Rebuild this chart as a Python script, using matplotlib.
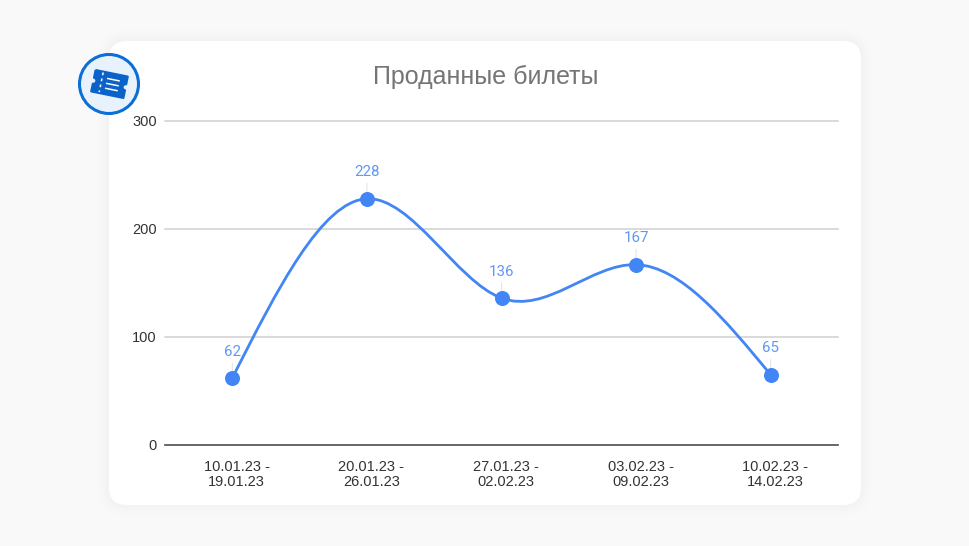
import matplotlib
matplotlib.use('Agg')
import matplotlib.pyplot as plt
from matplotlib.patches import FancyBboxPatch, Circle, PathPatch
from matplotlib.path import Path
from matplotlib.transforms import Affine2D, ScaledTranslation
import numpy as np

plt.rcParams['font.family'] = ['Liberation Sans', 'DejaVu Sans']

title = 'Проданные билеты'
periods = ['10.01.23 -\n19.01.23', '20.01.23 -\n26.01.23', '27.01.23 -\n02.02.23',
           '03.02.23 -\n09.02.23', '10.02.23 -\n14.02.23']
sold = [62, 228, 136, 167, 65]
y_ticks = [0, 100, 200, 300]

W, H = 970, 546
blue = '#4285f4'


def px_axes(fig, zorder):
    # full figure axes in pixel coordinates, y pointing down
    a = fig.add_axes([0, 0, 1, 1], zorder=zorder)
    a.set_xlim(0, W)
    a.set_ylim(H, 0)
    a.axis('off')
    a.patch.set_alpha(0)
    return a


def smooth_path(ys):
    # natural cubic spline through the values, written as bezier segments
    ys = np.asarray(ys, dtype=float)
    n = len(ys)
    A = np.eye(n)
    b = np.zeros(n)
    for i in range(1, n - 1):
        A[i, i - 1:i + 2] = [1, 4, 1]
        b[i] = 6 * (ys[i - 1] - 2 * ys[i] + ys[i + 1])
    m = np.linalg.solve(A, b)
    verts = [(0, ys[0])]
    codes = [Path.MOVETO]
    for i in range(n - 1):
        dy = ys[i + 1] - ys[i]
        d0 = dy - (2 * m[i] + m[i + 1]) / 6
        d1 = dy + (m[i] + 2 * m[i + 1]) / 6
        verts += [(i + 1 / 3, ys[i] + d0 / 3), (i + 2 / 3, ys[i + 1] - d1 / 3), (i + 1, ys[i + 1])]
        codes += [Path.CURVE4] * 3
    return Path(verts, codes)


fig = plt.figure(figsize=(W / 100, H / 100), dpi=100, facecolor='#f9f9f9')

# card with a soft shadow
bg = px_axes(fig, 0)
for grow, alpha in [(12, 0.004), (9, 0.005), (6, 0.006), (3, 0.008)]:
    bg.add_patch(FancyBboxPatch((127 - grow, 59 - grow), 716 + 2 * grow, 428 + 2 * grow,
                                boxstyle='round,pad=18,rounding_size=%d' % (18 + grow),
                                fc='black', ec='none', alpha=alpha))
bg.add_patch(FancyBboxPatch((127, 59), 716, 428, boxstyle='round,pad=18,rounding_size=18',
                            fc='white', ec='none'))
bg.text(485.5, 76.5, title, fontsize=18, color='#757575', ha='center', va='center')

# chart
ax = fig.add_axes([165 / W, 1 - 445 / H, (838 - 165) / W, (445 - 121) / H], zorder=1)
ax.patch.set_alpha(0)
xs = np.arange(len(sold))
ax.set_xlim(-0.5, len(sold) - 0.5)
ax.set_ylim(0, 300)
for s in ['top', 'right', 'left']:
    ax.spines[s].set_visible(False)
ax.spines['bottom'].set_color('#555555')
ax.spines['bottom'].set_linewidth(1.2)
ax.set_yticks(y_ticks)
ax.set_xticks(xs, periods)
ax.grid(axis='y', color='#d0d0d0', lw=1.1, clip_on=False)
ax.set_axisbelow(True)
ax.tick_params(axis='y', length=0, pad=6, labelsize=10.5, labelcolor='#333333')
ax.tick_params(axis='x', length=0, pad=11, labelsize=10.5, labelcolor='#333333')
shift = ScaledTranslation(4.5 / 100, 0, fig.dpi_scale_trans)
for lab in ax.get_xticklabels():
    lab.set_linespacing(1.05)
    lab.set_transform(lab.get_transform() + shift)

ax.add_patch(PathPatch(smooth_path(sold), fc='none', ec=blue, lw=2.0, zorder=3))
ax.plot(xs, sold, 'o', color=blue, ms=10.8, mew=0, zorder=4)
for x, v in zip(xs, sold):
    ax.annotate(str(v), (x, v), xytext=(0, 19), textcoords='offset points',
                ha='center', va='center', fontsize=10.8, color='#5f97f6', family='Roboto',
                arrowprops=dict(arrowstyle='-', color='#e4e4e4', lw=0.8, shrinkA=1, shrinkB=0),
                zorder=2)

# ticket icon
top = px_axes(fig, 2)
top.add_patch(Circle((109, 84), 29.5, fc='#e8f2fd', ec='#0b6fd6', lw=2.2))
rot = Affine2D().rotate_deg(11.5).translate(109.5, 84)
tw, th, notch = 16.5, 11, 3
t = np.linspace(-np.pi / 2, np.pi / 2, 12)
right = [(tw - notch * np.cos(a), notch * np.sin(a)) for a in t]
left = [(-tw + notch * np.cos(a), -notch * np.sin(a)) for a in t]
outline = [(-tw, -th), (tw, -th)] + right + [(tw, th), (-tw, th)] + left + [(-tw, -th)]
top.add_patch(PathPatch(Path(outline), fc='#0b63c9', ec='#0b63c9', lw=1.4, joinstyle='round',
                        transform=rot + top.transData))
for ly in [-5, 0, 5]:
    top.plot([-3, 9], [ly, ly], color='white', lw=1.1, solid_capstyle='round',
             transform=rot + top.transData)
top.plot([-8.5, -8.5], [-10, 10], color='white', lw=1.1, ls=(0, (1.8, 2.2)),
         transform=rot + top.transData)

fig.savefig('out.png', dpi=100, facecolor=fig.get_facecolor())
